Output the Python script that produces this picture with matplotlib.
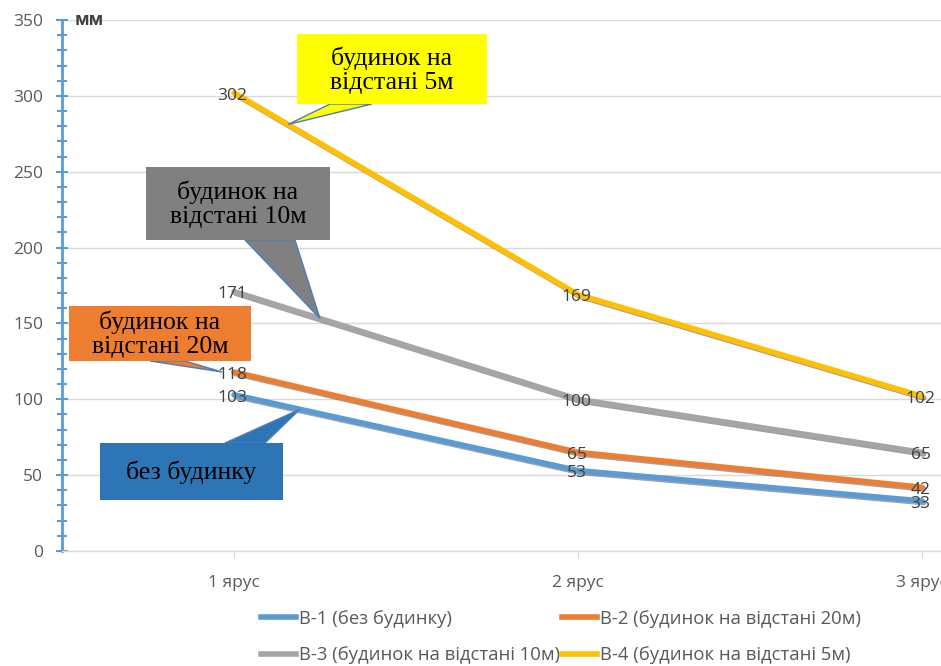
import numpy as np
import matplotlib
matplotlib.use("Agg")
import matplotlib.pyplot as plt
from matplotlib.lines import Line2D
from matplotlib.patches import Rectangle, Polygon
import matplotlib.patheffects as pe
from matplotlib.ticker import MultipleLocator

categories = ["1 ярус", "2 ярус", "3 ярус"]
series_names = [
    "В-1 (без будинку)",
    "В-2 (будинок на відстані 20м)",
    "В-3 (будинок на відстані 10м)",
    "В-4 (будинок на відстані 5м)",
]
v1 = [103, 53, 33]
v2 = [118, 65, 42]
v3 = [171, 100, 65]
v4 = [302, 169, 102]
colors = ["#5B9BD5", "#ED7D31", "#A5A5A5", "#FFC000"]

callout_texts = ["без будинку", "будинок на\nвідстані 20м", "будинок на\nвідстані 10м", "будинок на\nвідстані 5м"]
callout_fills = ["#2E75B6", "#ED7D31", "#808080", "#FFFF00"]

W, H = 941, 666
fig = plt.figure(figsize=(W / 100, H / 100), dpi=100)

# axes span: plot area runs past the right edge of the figure
left_px, right_px, top_px, bottom_px = 62, 1094, 20, 551
ax = fig.add_axes([left_px / W, (H - bottom_px) / H,
                   (right_px - left_px) / W, (bottom_px - top_px) / H])

x = np.arange(len(categories)) + 0.5
all_series = [v1, v2, v3, v4]
shadow = [pe.SimpleLineShadow(offset=(1.2, -1.2), shadow_color="#555555", alpha=0.55), pe.Normal()]
for vals, c, name in zip(all_series, colors, series_names):
    ax.plot(x, vals, color=c, lw=4.0, solid_capstyle="round", label=name,
            path_effects=shadow, zorder=3)
    for xi, v in zip(x, vals):
        ax.annotate(str(v), (xi, v), xytext=(-1, -2), textcoords="offset points",
                    ha="center", va="center", fontsize=12.5, color="#404040",
                    family="Open Sans", zorder=5)

ax.set_xlim(0, 3)
ax.set_ylim(0, 350)
ax.yaxis.set_major_locator(MultipleLocator(50))
ax.yaxis.set_minor_locator(MultipleLocator(10))
ax.set_xticks(x)
ax.set_xticklabels(categories)
ax.grid(axis="y", which="major", color="#D9D9D9", lw=1, zorder=0)
ax.set_axisbelow(True)

for s in ["top", "right"]:
    ax.spines[s].set_visible(False)
ax.spines["left"].set_color("#5B9BD5")
ax.spines["left"].set_linewidth(2)
ax.spines["bottom"].set_color("#D9D9D9")
ax.spines["bottom"].set_linewidth(1)
ax.tick_params(axis="y", which="major", direction="inout", length=9, width=1.5,
               color="#5B9BD5", labelcolor="#595959", labelsize=12.5, pad=9)
ax.tick_params(axis="y", which="minor", direction="inout", length=7, width=1.5, color="#5B9BD5")
ax.tick_params(axis="x", direction="out", length=5, color="#D9D9D9",
               labelcolor="#595959", labelsize=12.5, pad=12)
for lab in ax.get_xticklabels() + ax.get_yticklabels():
    lab.set_family("Open Sans")

ax.text(13 / (right_px - left_px), 1.0, "мм", transform=ax.transAxes, ha="left", va="center",
        fontsize=12.5, color="#404040", fontweight="bold", family="Open Sans")

# legend in two rows
handles = [Line2D([], [], color=c, lw=4) for c in colors]
order = [0, 2, 1, 3]
fig.legend([handles[i] for i in order], [series_names[i] for i in order],
           ncol=2, loc="center", bbox_to_anchor=(561 / W, 1 - 637 / H),
           frameon=False, handlelength=1.9, handletextpad=0.15,
           columnspacing=0.12, labelspacing=1.0, borderaxespad=0, borderpad=0,
           prop={"family": "Open Sans", "size": 13.3}, labelcolor="#595959")

fig.canvas.draw()


def px2fig(px, py):
    return px / W, 1 - py / H


def data2fig(xd, yd):
    d = ax.transData.transform((xd, yd))
    return tuple(fig.transFigure.inverted().transform(d))


def point_on_series(vals, xd):
    return xd, float(np.interp(xd, x, vals))


# callout boxes: (left, top, right, bottom) px, wedge base px, position along line
boxes = [
    ((100, 443, 283, 500), [(225, 443), (265, 443)], v1, (300 - left_px) / 344),
    ((69, 306, 251, 361), [(150, 361), (185, 361)], v2, (222 - left_px) / 344),
    ((146, 167, 330, 240), [(245, 240), (295, 240)], v3, (320 - left_px) / 344),
    ((297, 34, 487, 104), [(330, 104), (372, 104)], v4, (288 - left_px) / 344),
]
for ((l, t, r, b), base, vals, xd), txt, fc in zip(boxes, callout_texts, callout_fills):
    tip = data2fig(*point_on_series(vals, xd))
    wedge = Polygon([px2fig(*base[0]), tip, px2fig(*base[1])], closed=True,
                    transform=fig.transFigure, facecolor=fc, edgecolor="#4A7EBB",
                    lw=1, zorder=6)
    fig.add_artist(wedge)
    x0, y0 = px2fig(l, b)
    rect = Rectangle((x0, y0), (r - l) / W, (b - t) / H, transform=fig.transFigure,
                     facecolor=fc, edgecolor="none", zorder=7)
    fig.add_artist(rect)
    cx, cy = px2fig((l + r) / 2, (t + b) / 2 + 1)
    fig.text(cx, cy, txt, ha="center", va="center", fontsize=18.5, color="black",
             family="Liberation Serif", linespacing=1.1, zorder=8)

fig.savefig("out.png", dpi=100, facecolor="white")
